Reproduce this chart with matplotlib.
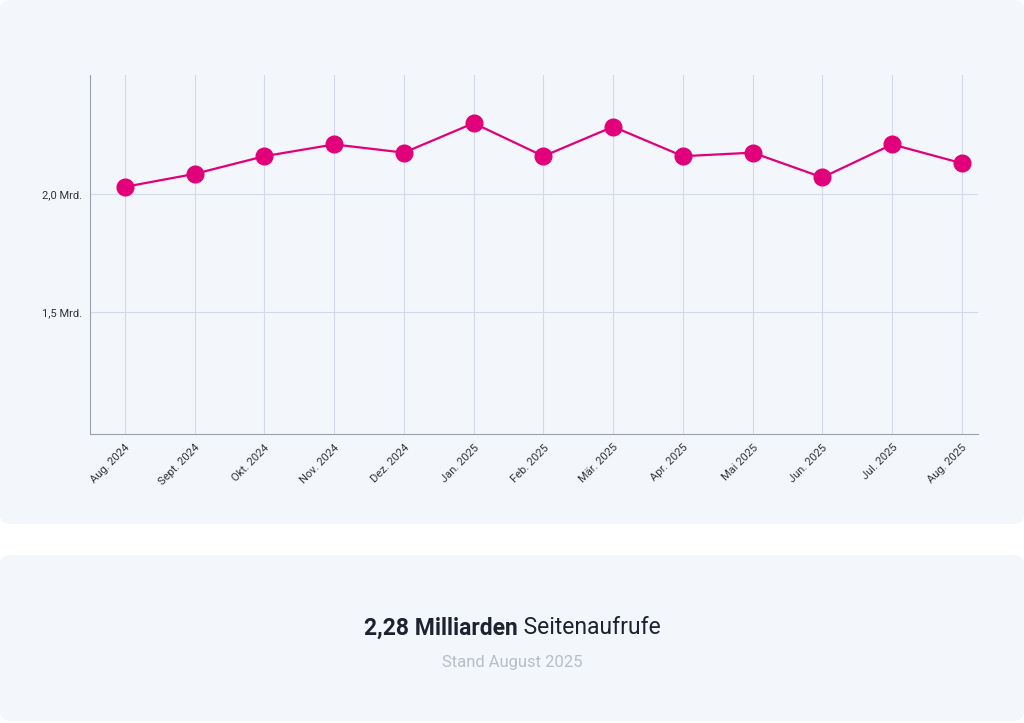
import matplotlib
matplotlib.use("Agg")
import matplotlib.pyplot as plt
from matplotlib.patches import FancyBboxPatch

months = ["Aug. 2024", "Sept. 2024", "Okt. 2024", "Nov. 2024", "Dez. 2024", "Jan. 2025",
          "Feb. 2025", "Mär. 2025", "Apr. 2025", "Mai 2025", "Jun. 2025", "Jul. 2025", "Aug. 2025"]
views = [2.03, 2.085, 2.16, 2.21, 2.175, 2.30, 2.16, 2.285, 2.16, 2.175, 2.07, 2.21, 2.13]
yticks = [1.5, 2.0]
ytick_labels = ["1,5 Mrd.", "2,0 Mrd."]

plt.rcParams['font.family'] = ['Roboto', 'DejaVu Sans']
W, H = 1024, 723
fig = plt.figure(figsize=(W/100, H/100), dpi=100)
fig.patch.set_facecolor("white")
bg = "#f3f6fb"
for (x0, y0, w, h) in [(0, 0, 1024, 524), (0, 555, 1024, 166)]:
    p = FancyBboxPatch((x0/W, 1-(y0+h)/H), w/W, h/H,
                       boxstyle="round,pad=0,rounding_size=0.012",
                       transform=fig.transFigure, facecolor=bg, edgecolor="none", zorder=-5)
    fig.patches.append(p)

ax = fig.add_axes([90/W, 1-434/H, (978-90)/W, (434-75)/H])
ax.set_zorder(2)
ax.set_facecolor("none")
x = list(range(len(months)))
ax.plot(x, views, color="#e2007a", lw=1.6, marker="o", ms=12, zorder=3, clip_on=False)
ax.set_xlim(-0.5, len(months)-1+0.23)
ax.set_ylim(0.983, 2.504)
ax.set_yticks(yticks)
ax.set_yticklabels(ytick_labels, fontsize=8, color="#333")
ax.set_xticks(x)
ax.set_xticklabels(months, rotation=45, ha="right", rotation_mode="anchor", fontsize=8, color="#333")
ax.grid(True, color="#d3d9e6", lw=0.8)
ax.set_axisbelow(True)
for s in ["top", "right"]:
    ax.spines[s].set_visible(False)
for s in ["left", "bottom"]:
    ax.spines[s].set_color("#9aa0aa")
ax.tick_params(length=0, pad=6)

y_title = 1-628/H
t1 = fig.text(0, y_title, "2,28 Milliarden", fontweight="bold", fontsize=16.5, color="#1c2230", va="center")
t2 = fig.text(0, y_title, " Seitenaufrufe", fontsize=16.5, color="#1c2230", va="center")
r = fig.canvas.get_renderer()
w1 = t1.get_window_extent(r).width
w2 = t2.get_window_extent(r).width
start = (W - w1 - w2) / 2
t1.set_x(start / W)
t2.set_x((start + w1) / W)
fig.text(0.5, 1-663/H, "Stand August 2025", ha="center", va="center", fontsize=12, color="#b8bec8")
fig.savefig("out.png", dpi=100)
